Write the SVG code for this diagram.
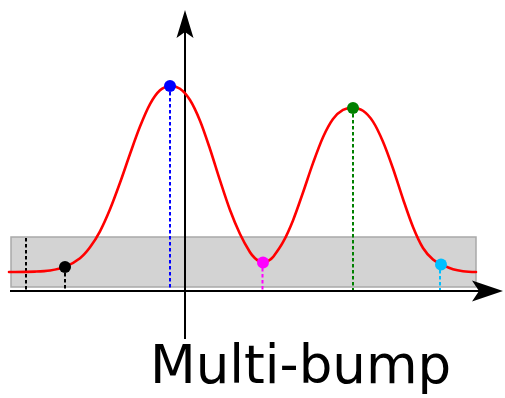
<svg xmlns="http://www.w3.org/2000/svg" width="505" height="398" viewBox="0 0 505 398">
<style>
.dash{stroke-width:2;stroke-dasharray:3.5 2.5;fill:none}
.axis{stroke:#000;stroke-width:2;fill:none}
.curve{stroke:#ff0000;stroke-width:2.6;fill:none;stroke-linecap:round;stroke-linejoin:round}
.lbl{font-family:"DejaVu Sans",sans-serif;font-size:53px;fill:#000}
</style>
<g id="band"><rect x="11" y="237" width="465" height="50" fill="#d3d3d3" stroke="#a9a9a9" stroke-width="1.5"/></g>
<g id="connectors">
<line class="axis" x1="10" y1="291" x2="482" y2="291"/>
<path d="M503,291 L472,280.5 L479,291 L472,301.5 Z" fill="#000"/>
<line class="axis" x1="185" y1="339" x2="185" y2="30"/>
<path d="M185,10 L176.5,38 L185,32 L193.5,38 Z" fill="#000"/>
<line class="dash" stroke="#000" x1="26" y1="238" x2="26" y2="290"/>
<line class="dash" stroke="#000" x1="65" y1="267" x2="65" y2="290"/>
<line class="dash" stroke="#0000ff" x1="170" y1="86" x2="170" y2="290"/>
<line class="dash" stroke="#ff00ff" x1="262.5" y1="262" x2="262.5" y2="290"/>
<line class="dash" stroke="#008000" x1="353" y1="108" x2="353" y2="290"/>
<line class="dash" stroke="#00bfff" x1="440" y1="264" x2="440" y2="290"/>
<path class="curve" d="M9,272 C17.67,271.91 26.33,271.92 35,271.6 C40,271.42 45,271.29 50,270.5 C55,269.72 60,268.95 65,266.9 C70,264.85 75,262.12 80,258.2 C83.33,255.59 86.67,251.78 90,247.3 C93.33,242.82 96.67,237.63 100,231.3 C103.33,224.97 106.67,217.38 110,209.3 C113.33,201.22 116.67,192.02 120,182.8 C123.33,173.58 126.67,163.37 130,154 C133.33,144.63 136.67,134.92 140,126.6 C143.33,118.28 146.67,110.15 150,104.1 C153.33,98.05 156.67,93.32 160,90.3 C163.33,87.28 166.67,86.27 170,86 C173.33,85.73 176.67,86.37 180,88.7 C183.33,91.03 186.67,94.67 190,100 C193.33,105.33 196.67,112.53 200,120.7 C203.33,128.87 206.67,139.05 210,149 C213.33,158.95 216.67,170.23 220,180.4 C223.33,190.57 226.67,201.07 230,210 C233.33,218.93 236.67,226.95 240,234 C243.33,241.05 246.67,246.9 250,252.3 C251.67,255 253.33,256.73 255,258.3 C256.67,259.88 258.33,260.9 260,261.75 C261,262.26 262,262.36 263,262.4 C264,262.44 265,262.37 266,262 C267.33,261.5 268.67,260.73 270,259.8 C271,259.1 272,258.45 273,257.1 C276.33,252.59 279.67,248.32 283,242.2 C286.33,236.08 289.67,228.68 293,220.4 C296.33,212.12 299.67,202.05 303,192.5 C306.33,182.95 309.67,172.32 313,163.1 C316.33,153.88 319.67,144.55 323,137.2 C326.33,129.85 329.67,123.55 333,119 C336.33,114.45 339.67,111.73 343,109.9 C346.33,108.07 349.67,107.87 353,108 C356.33,108.13 359.67,108.43 363,110.7 C366.33,112.97 369.67,116.43 373,121.6 C376.33,126.77 379.67,133.88 383,141.7 C386.33,149.52 389.67,158.95 393,168.5 C396.33,178.05 399.67,189.25 403,199 C406.33,208.75 409.67,218.83 413,227 C416.33,235.17 419.67,242.58 423,248 C426.33,253.42 429.67,256.63 433,259.5 C436.33,262.37 439.67,263.57 443,265.2 C446.33,266.83 449.67,268.3 453,269.3 C456.33,270.3 459.67,270.81 463,271.2 C467.33,271.71 471.67,271.87 476,272"/>
</g>
<g id="p-black"><circle cx="65" cy="266.9" r="6" fill="#000"/></g>
<g id="p-blue"><circle cx="170" cy="86" r="6" fill="#0000ff"/></g>
<g id="p-magenta"><circle cx="263" cy="262.4" r="6" fill="#ff00ff"/></g>
<g id="p-green"><circle cx="353" cy="108" r="6" fill="#008000"/></g>
<g id="p-cyan"><circle cx="441" cy="264.5" r="6" fill="#00bfff"/></g>
<g id="title"><text class="lbl" x="150" y="383">Multi-bump</text></g>
</svg>
